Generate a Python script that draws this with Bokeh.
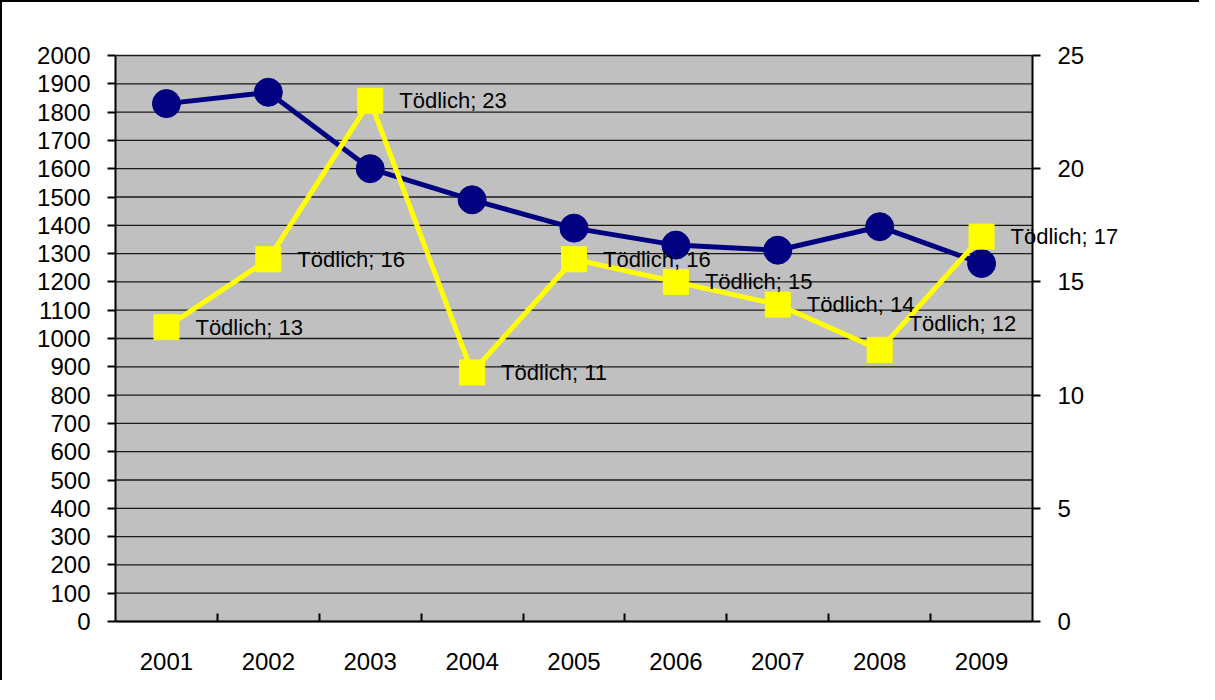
from bokeh.plotting import figure
from bokeh.models import Range1d, LinearAxis, FixedTicker, Label, BoxAnnotation
from bokeh.embed import file_html
from bokeh.resources import INLINE

# ---- data ----
years = [2001, 2002, 2003, 2004, 2005, 2006, 2007, 2008, 2009]
year_labels = ["2001", "2002", "2003", "2004", "2005", "2006", "2007", "2008", "2009"]
total = [1830, 1870, 1600, 1490, 1390, 1330, 1312, 1395, 1265]
toedlich = [13, 16, 23, 11, 16, 15, 14, 12, 17]
left_ticks = list(range(0, 2001, 100))
right_ticks = [0, 5, 10, 15, 20, 25]
label_prefix = "Tödlich; "

FONT = "Liberation Sans"

# Geometry: the grey plot area is AREA_W x AREA_H px.  The frame is larger
# so that texts next to the right axis / below the x axis are not clipped.
AREA_W, AREA_H = 917, 566
FRAME_W = 1020
PAD_TOP, PAD_BOTTOM = 20, 54

x0 = years[0] - 0.5
x1 = years[-1] + 0.5
x_end = x1 + (FRAME_W - AREA_W) * (x1 - x0) / AREA_W

L0, L1 = left_ticks[0], left_ticks[-1]
R0, R1 = right_ticks[0], right_ticks[-1]
lu = (L1 - L0) / AREA_H
ru = (R1 - R0) / AREA_H

p = figure(frame_width=FRAME_W, frame_height=AREA_H + PAD_TOP + PAD_BOTTOM,
           output_backend="svg", toolbar_location=None,
           x_range=Range1d(x0, x_end),
           y_range=Range1d(L0 - PAD_BOTTOM * lu, L1 + PAD_TOP * lu),
           min_border_left=113, min_border_top=33, min_border_right=64,
           min_border_bottom=5)
p.styles = {"border-left": "2px solid #000", "border-top": "2px solid #000"}
p.background_fill_color = "white"
p.border_fill_color = "white"
p.outline_line_color = None

p.extra_y_ranges = {"right": Range1d(R0 - PAD_BOTTOM * ru, R1 + PAD_TOP * ru)}

# grey plot area
p.add_layout(BoxAnnotation(left=x0, right=x1, bottom=L0, top=L1,
                           fill_color="#C0C0C0", fill_alpha=1,
                           line_color=None, level="underlay"))
# horizontal gridlines limited to the plot area
p.segment(x0=[x0] * len(left_ticks), x1=[x1] * len(left_ticks),
          y0=left_ticks, y1=left_ticks, line_color="#1a1a1a", line_width=1.3)

# x axis at value 0: small ticks between categories, labels drawn as texts
xa = p.xaxis[0]
xa.fixed_location = L0
xa.bounds = (x0, x1)
xa.ticker = FixedTicker(ticks=years, minor_ticks=[y + 0.5 for y in years[:-1]])
xa.major_label_overrides = {y: "" for y in years}
xa.major_label_text_font_size = "1px"
xa.major_label_standoff = 0
xa.major_tick_in = 0
xa.major_tick_out = 0
xa.minor_tick_in = 8
xa.minor_tick_out = 0
xa.minor_tick_line_color = "black"
xa.minor_tick_line_width = 2
xa.axis_line_color = "black"
xa.axis_line_width = 2

for x, t in zip(years, year_labels):
    p.add_layout(Label(x=x, y=L0, text=t, y_offset=-40,
                       text_font=FONT, text_font_size="24px", text_color="black",
                       text_align="center", text_baseline="middle"))

# left axis
ya = p.yaxis[0]
ya.bounds = (L0, L1)
ya.ticker = FixedTicker(ticks=left_ticks)
ya.major_tick_in = 0
ya.major_tick_out = 8
ya.minor_tick_line_color = None
ya.major_label_standoff = 17

# right axis, fixed at the right edge of the grey area
ra = LinearAxis(y_range_name="right", ticker=FixedTicker(ticks=right_ticks),
                fixed_location=x1, bounds=(R0, R1))
ra.major_tick_in = 0
ra.major_tick_out = 8
ra.minor_tick_line_color = None
ra.major_label_standoff = 17
p.add_layout(ra, "right")

for ax in [ya, ra]:
    ax.axis_line_color = "black"
    ax.axis_line_width = 2
    ax.major_tick_line_color = "black"
    ax.major_tick_line_width = 2
    ax.major_label_text_font = FONT
    ax.major_label_text_font_size = "24px"
    ax.major_label_text_color = "black"

p.xgrid.grid_line_color = None
p.ygrid.grid_line_color = None

# series
p.line(years, total, line_color="#000080", line_width=5)
p.scatter(years, total, marker="circle", size=28, fill_color="#000080", line_color="#000080")

p.line(years, toedlich, line_color="#FFFF00", line_width=5, y_range_name="right")
p.scatter(years, toedlich, marker="square", size=25, fill_color="#FFFF00",
          line_color="#FFFF00", y_range_name="right")

# data labels (the 2008 label is lifted, as in the original)
dy = [0, 0, 0, 0, 0, 0, 0, 26, 0]
for x, v, d in zip(years, toedlich, dy):
    p.add_layout(Label(x=x, y=v, y_range_name="right", text=label_prefix + str(v),
                       x_offset=29, y_offset=d,
                       text_font=FONT, text_font_size="22px", text_color="black",
                       text_align="left", text_baseline="middle"))

open("out.html", "w").write(file_html(p, INLINE))
